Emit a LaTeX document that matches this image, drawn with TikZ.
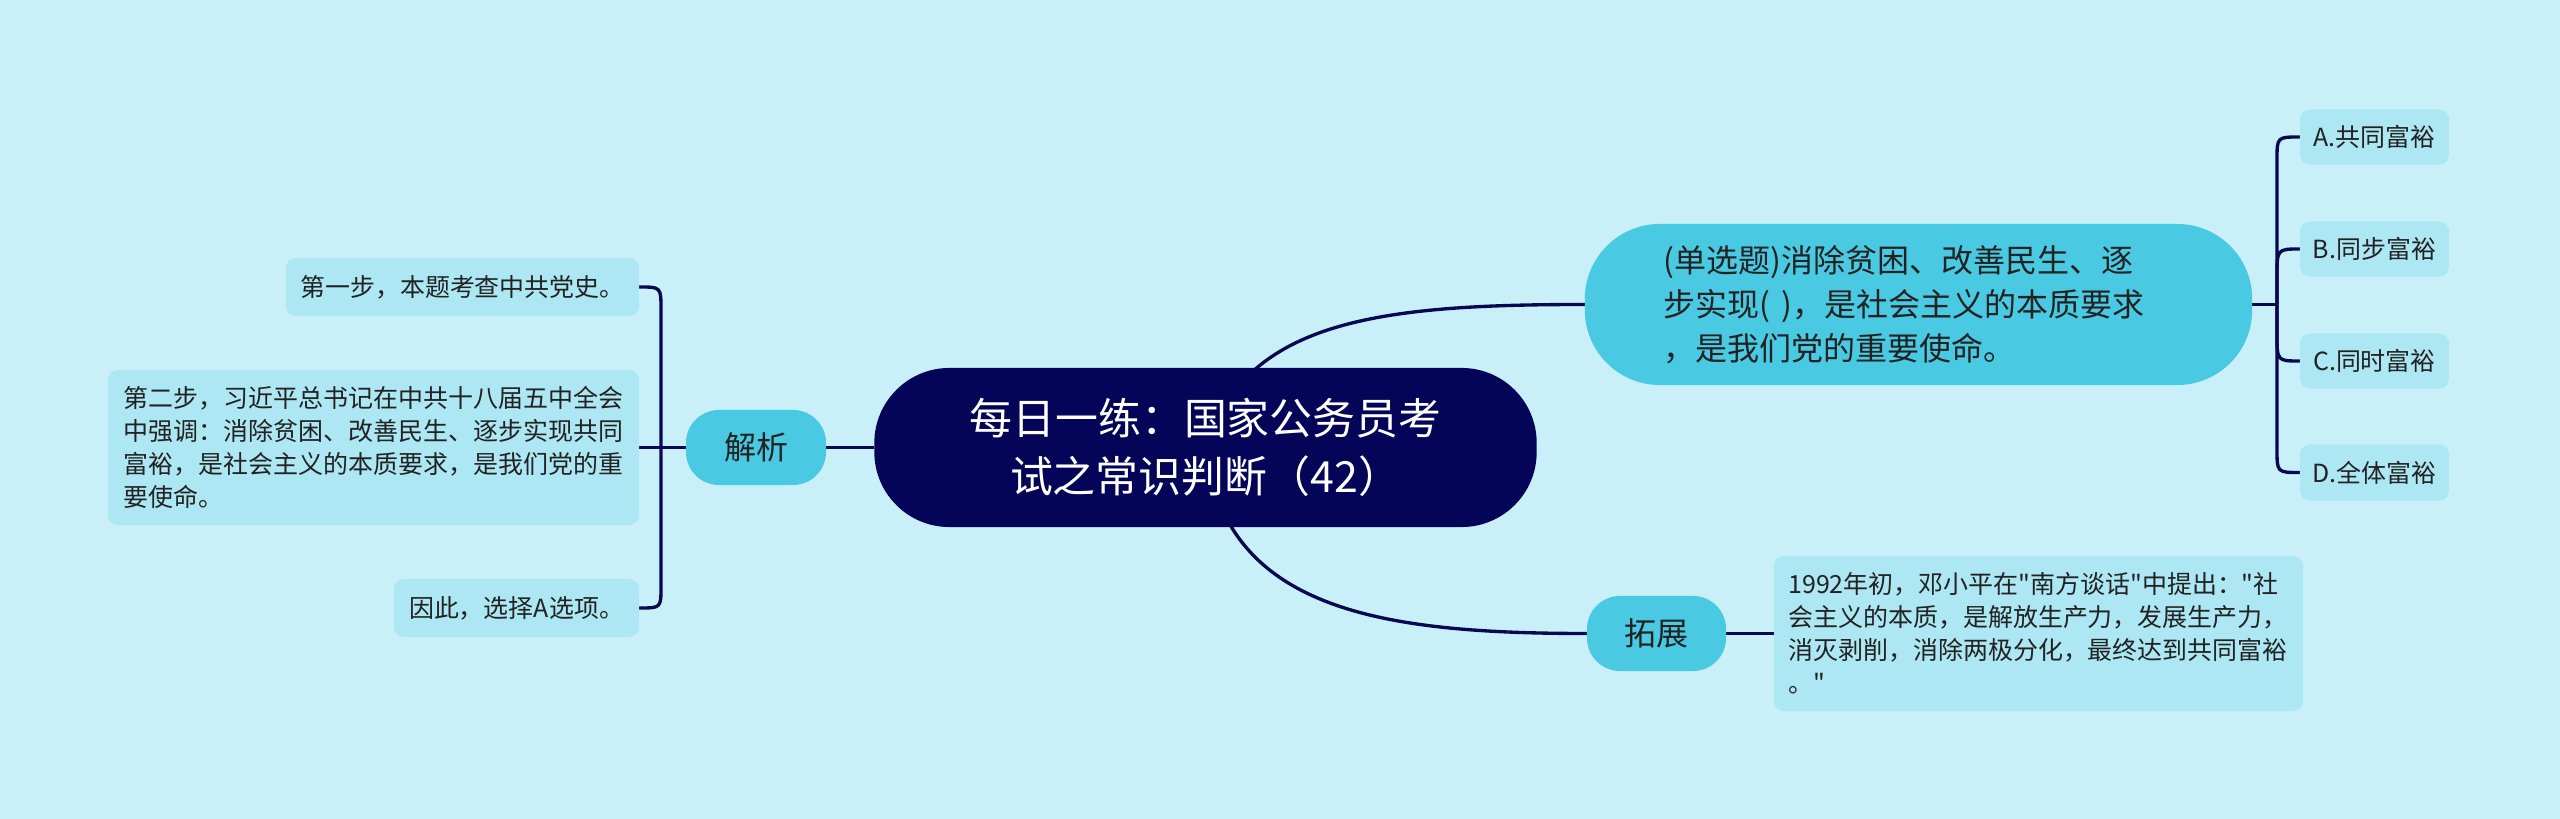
\documentclass[tikz,border=0pt]{standalone}
\usepackage{fontspec}
\setmainfont{Noto Sans CJK SC}
\newfontfamily\cjkfont{Noto Sans CJK SC}
\usetikzlibrary{calc}
\definecolor{bgc}{RGB}{201,240,248}
\definecolor{rootc}{RGB}{4,4,88}
\definecolor{linec}{RGB}{8,8,80}
\definecolor{midc}{RGB}{74,201,227}
\definecolor{lightc}{RGB}{172,231,243}
\definecolor{txt}{RGB}{34,34,34}
\pgfdeclarelayer{background}
\pgfsetlayers{background,main}
\begin{document}
\begin{tikzpicture}[x=0.01cm,y=-0.01cm,
  every node/.style={inner sep=0pt, outer sep=0pt, text=txt},
  rootbox/.style={fill=rootc, text=white, rounded corners=0.75cm, minimum width=6.62cm, minimum height=1.59cm, align=center, font=\cjkfont\fontsize{12.2pt}{16.6pt}\selectfont},
  midbox/.style={fill=midc, align=left, font=\cjkfont\fontsize{9.1pt}{12.5pt}\selectfont},
  smallbox/.style={fill=lightc, rounded corners=0.1cm, align=left, font=\cjkfont\fontsize{7.1pt}{9.4pt}\selectfont},
  link/.style={draw=linec, line width=0.95pt}
]
\begin{pgfonlayer}{background}
\fill[bgc] (0,0) rectangle (2560,819);
\end{pgfonlayer}

% central topic
\node[rootbox] (root) at (1205.5,447.5) {每日一练：国家公务员考\\试之常识判断（42）};

% question branch
\node[midbox, rounded corners=0.75cm, text width=5.09cm, minimum width=6.67cm, minimum height=1.61cm] (q) at (1918.5,304.5)
  {(单选题)消除贫困、改善民生、逐\\步实现( )，是社会主义的本质要求\\，是我们党的重要使命。};
\node[smallbox, minimum width=1.49cm, minimum height=0.55cm] (oA) at (2374.5,137) {A.共同富裕};
\node[smallbox, minimum width=1.49cm, minimum height=0.55cm] (oB) at (2374.5,249) {B.同步富裕};
\node[smallbox, minimum width=1.49cm, minimum height=0.55cm] (oC) at (2374.5,361) {C.同时富裕};
\node[smallbox, minimum width=1.49cm, minimum height=0.56cm] (oD) at (2374.5,472.5) {D.全体富裕};
\coordinate (jr) at (2277,304.5);

% analysis branch
\node[midbox, rounded corners=0.33cm, minimum width=1.40cm, minimum height=0.75cm] (jx) at (756,447.5) {解析};
\node[smallbox, minimum width=3.53cm, minimum height=0.58cm] (b1) at (462.5,287) {第一步，本题考查中共党史。};
\node[smallbox, minimum width=5.31cm, minimum height=1.55cm] (b2) at (373.5,447.5)
  {第二步，习近平总书记在中共十八届五中全会\\中强调：消除贫困、改善民生、逐步实现共同\\富裕，是社会主义的本质要求，是我们党的重\\要使命。};
\node[smallbox, minimum width=2.45cm, minimum height=0.58cm] (b3) at (516.5,608) {因此，选择A选项。};
\coordinate (jl) at (661,447.5);

% extension branch
\node[midbox, rounded corners=0.33cm, minimum width=1.39cm, minimum height=0.75cm] (tz) at (1656.5,633.5) {拓展};
\node[smallbox, text width=5.00cm, minimum width=5.29cm, minimum height=1.55cm] (rb) at (2038.5,633.5)
  {1992年初，邓小平在"南方谈话"中提出："社\\会主义的本质，是解放生产力，发展生产力，\\消灭剥削，消除两极分化，最终达到共同富裕\\。"};

\begin{pgfonlayer}{background}
% root connections
\draw[link] (root.center) .. controls +(40,-127.5) and +(-205,0) .. (q.west);
\draw[link] (root.center) .. controls +(19.5,162.5) and +(-207,0) .. (tz.west);
\draw[link] (root.west) -- (jx.east);
% options bracket
\draw[link] (q.east) -- (jr);
\draw[link] (jr) -- ++(0,-145) .. controls (jr |- oA.west) .. (oA.west);
\draw[link] (jr) -- ++(0,-28) .. controls (jr |- oB.west) .. (oB.west);
\draw[link] (jr) -- ++(0,30) .. controls (jr |- oC.west) .. (oC.west);
\draw[link] (jr) -- ++(0,145) .. controls (jr |- oD.west) .. (oD.west);
% analysis bracket
\draw[link] (jx.west) -- (b2.east);
\draw[link] (jl) -- ++(0,-138) .. controls (jl |- b1.east) .. (b1.east);
\draw[link] (jl) -- ++(0,139) .. controls (jl |- b3.east) .. (b3.east);
% extension
\draw[link] (tz.east) -- (rb.west);
\end{pgfonlayer}
\end{tikzpicture}
\end{document}
